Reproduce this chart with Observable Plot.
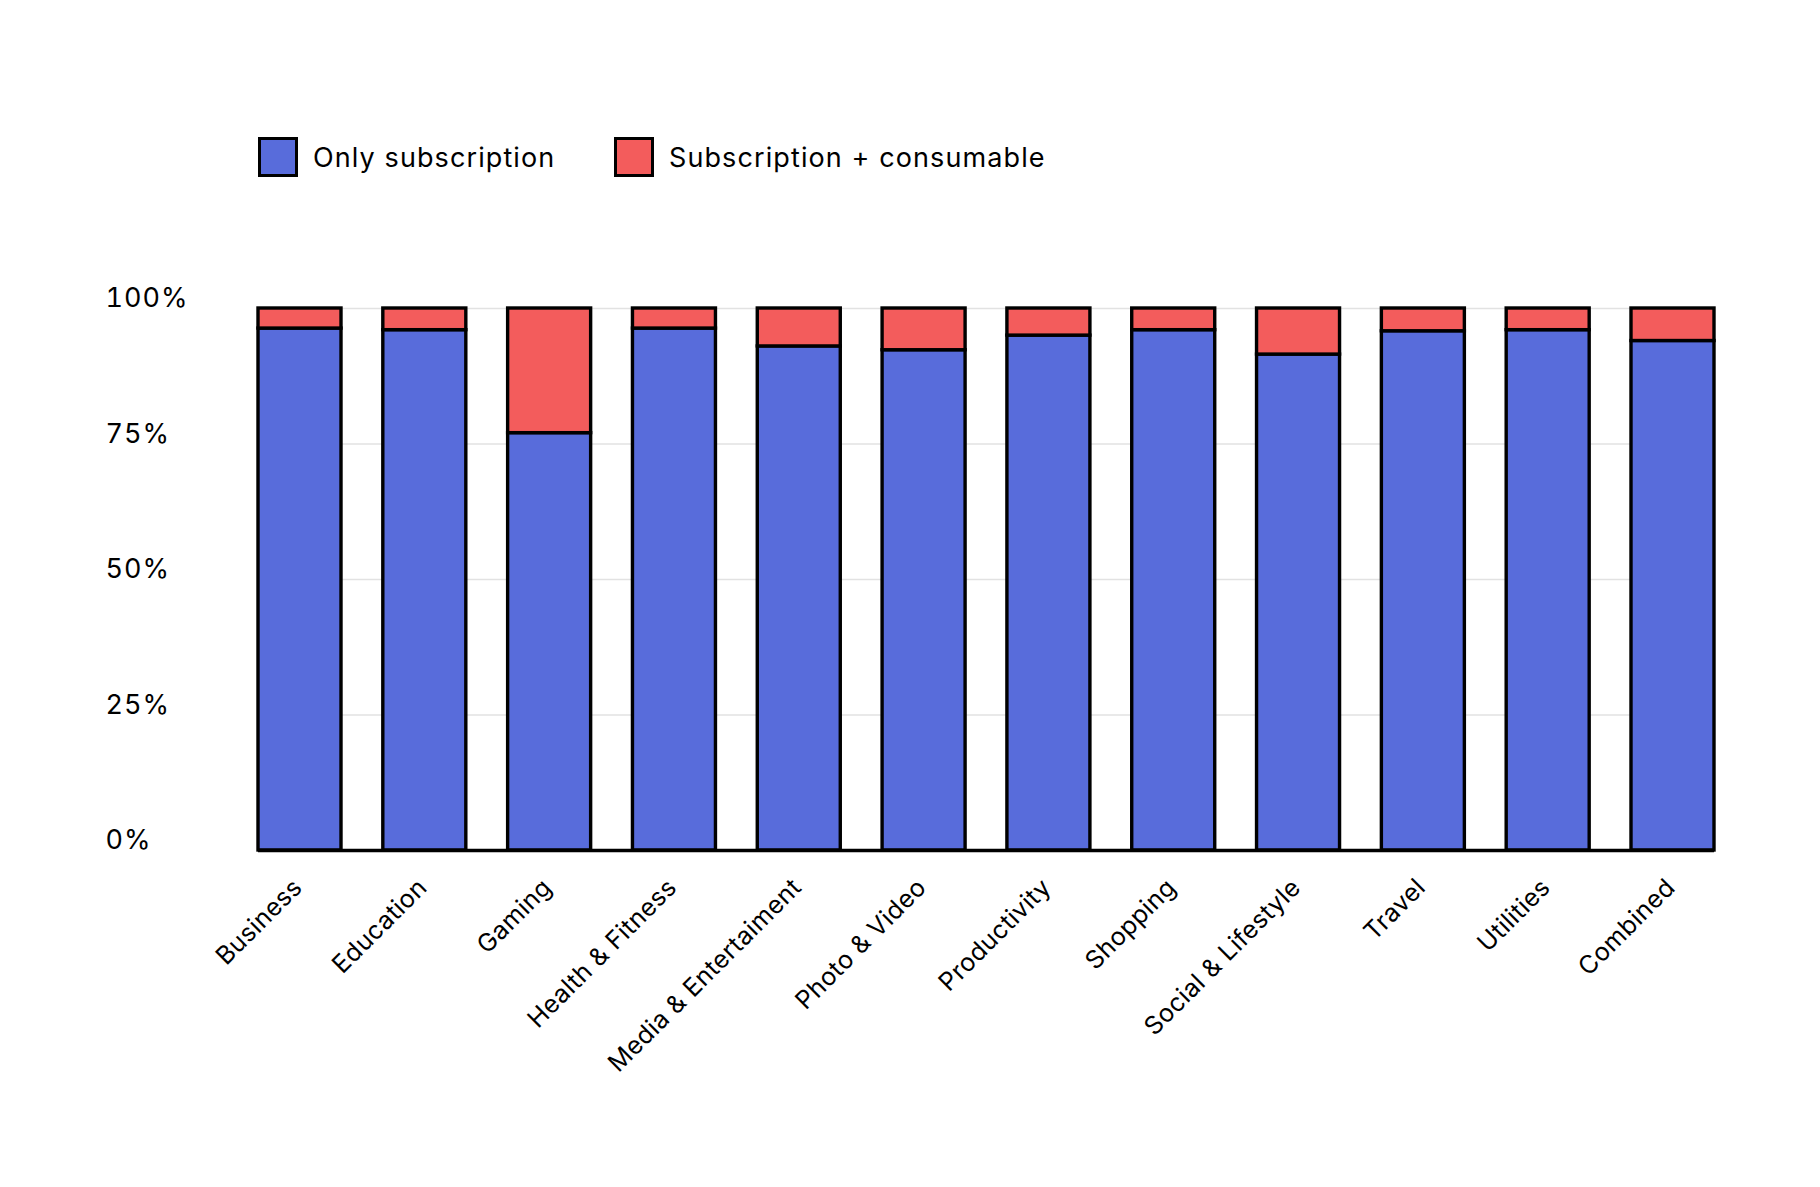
<!DOCTYPE html>
<html>
<head>
<meta charset="utf-8">
<script src="https://cdn.jsdelivr.net/npm/d3@7"></script>
<script src="https://cdn.jsdelivr.net/npm/@observablehq/plot@0.6"></script>
<style>
  html, body { margin: 0; padding: 0; background: #fff; }
  body { width: 1820px; height: 1187px; overflow: hidden; font-family: Inter, "Noto Sans", sans-serif; color: #000; }
  #legend { position: relative; height: 200px; }
  .item { position: absolute; top: 137px; height: 40px; display: flex; align-items: center; font-size: 27px; letter-spacing: 1.1px; white-space: nowrap; }
  .sw { width: 40px; height: 40px; box-sizing: border-box; border: 3px solid #000; margin-right: 15px; }
  #chart svg { display: block; }
  #chart g[aria-label="y-axis tick label"] text { letter-spacing: 1px; }
  #chart g[aria-label="x-axis tick label"] text { letter-spacing: 0.4px; }
</style>
</head>
<body>
<div id="legend"></div>
<div id="chart"></div>
<script>
const categories = ["Business", "Education", "Gaming", "Health & Fitness", "Media & Entertaiment", "Photo & Video", "Productivity", "Shopping", "Social & Lifestyle", "Travel", "Utilities", "Combined"];
const onlySubscription = [96.3, 96.0, 77.0, 96.3, 93.0, 92.3, 95.0, 96.0, 91.5, 95.8, 96.0, 94.0];
const subscriptionConsumable = [3.7, 4.0, 23.0, 3.7, 7.0, 7.7, 5.0, 4.0, 8.5, 4.2, 4.0, 6.0];
const seriesNames = ["Only subscription", "Subscription + consumable"];
const seriesColors = ["#586cdb", "#f35c5c"];
const yTicks = [0, 25, 50, 75, 100];

// legend
const legend = document.getElementById("legend");
const legendLefts = [258, 614];
seriesNames.forEach((name, i) => {
  const it = document.createElement("div");
  it.className = "item";
  it.style.left = legendLefts[i] + "px";
  const sw = document.createElement("div");
  sw.className = "sw";
  sw.style.background = seriesColors[i];
  const tx = document.createElement("span");
  tx.textContent = name;
  it.appendChild(sw); it.appendChild(tx);
  legend.appendChild(it);
});

const rows = categories.flatMap((c, i) => [
  {category: c, series: seriesNames[0], value: onlySubscription[i]},
  {category: c, series: seriesNames[1], value: subscriptionConsumable[i]}
]);

const chart = Plot.plot({
  width: 1820,
  height: 987,
  marginTop: 108,
  marginBottom: 337,
  marginLeft: 258,
  marginRight: 106,
  style: {fontFamily: "Inter, 'Noto Sans', sans-serif", background: "#fff", color: "#000"},
  x: {domain: categories, paddingInner: 0.335, paddingOuter: 0, round: false, label: null},
  y: {domain: [0, 100], label: null},
  color: {domain: seriesNames, range: seriesColors},
  marks: [
    Plot.gridY(yTicks.slice(1), {stroke: "#e2e2e2", strokeOpacity: 1, strokeWidth: 1.5}),
    Plot.barY(rows, Plot.stackY({x: "category", y: "value", fill: "series", stroke: "#000", strokeWidth: 3.4})),
    Plot.ruleY([0], {stroke: "#000", strokeWidth: 3.4}),
    Plot.axisY({ticks: yTicks, tickFormat: d => d + "%", tickSize: 0, tickPadding: 0, textAnchor: "start", dx: -153, dy: -10, fontSize: 27, fill: "#000"}),
    Plot.axisX({tickSize: 0, tickPadding: 26, tickRotate: -45, textAnchor: "end", lineAnchor: "top", dx: -9, fontSize: 25, fill: "#000"})
  ]
});
document.getElementById("chart").appendChild(chart);
</script>
</body>
</html>
